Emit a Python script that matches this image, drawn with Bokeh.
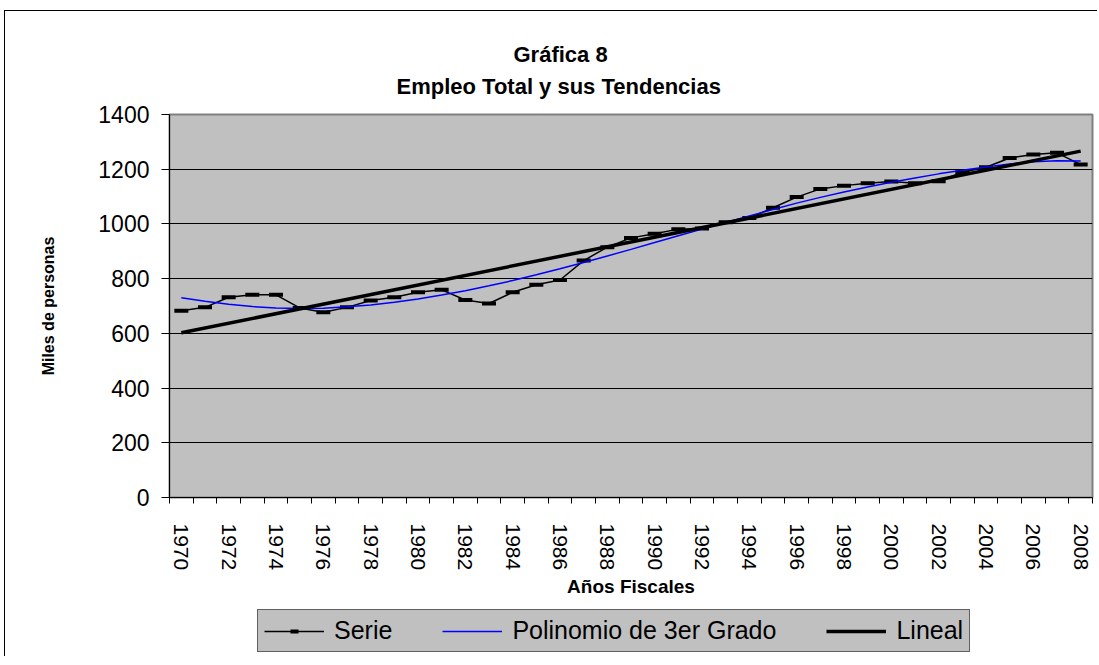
import math
from bokeh.plotting import figure
from bokeh.layouts import column
from bokeh.models import Range1d, FixedTicker, Legend, LegendItem, Title
from bokeh.embed import file_html
from bokeh.resources import INLINE

# ---------------- data ----------------
years = [1970, 1971, 1972, 1973, 1974, 1975, 1976, 1977, 1978, 1979,
         1980, 1981, 1982, 1983, 1984, 1985, 1986, 1987, 1988, 1989,
         1990, 1991, 1992, 1993, 1994, 1995, 1996, 1997, 1998, 1999,
         2000, 2001, 2002, 2003, 2004, 2005, 2006, 2007, 2008]

empleo = [683, 695, 732, 741, 741, 693, 677, 695, 720, 732,
          750, 759, 722, 709, 750, 778, 795, 866, 915, 949,
          964, 981, 983, 1006, 1022, 1059, 1098, 1128, 1140, 1149,
          1155, 1149, 1156, 1189, 1207, 1241, 1254, 1260, 1217]

polinomio = [730, 717, 706, 698, 693, 691, 692, 697, 704, 714,
             726, 740, 756, 774, 793, 814, 836, 859, 883, 907,
             932, 957, 981, 1005, 1029, 1053, 1076, 1097, 1117, 1135,
             1152, 1168, 1183, 1196, 1208, 1219, 1227, 1231, 1230]

lineal_years = [1970, 2008]
lineal = [602, 1266]

y_ticks = [0, 200, 400, 600, 800, 1000, 1200, 1400]
label_years = [1970, 1972, 1974, 1976, 1978, 1980, 1982, 1984, 1986, 1988,
               1990, 1992, 1994, 1996, 1998, 2000, 2002, 2004, 2006, 2008]

title_lines = ["Gráfica 8", "Empleo Total y sus Tendencias"]
x_title = "Años Fiscales"
y_title = "Miles de personas"
legend_labels = ["Serie", "Polinomio de 3er Grado", "Lineal"]

FONT = "Liberation Sans"

# category positions (centre of each category slot)
xpos = [i + 0.5 for i in range(len(years))]
lin_x = [years.index(y) + 0.5 for y in lineal_years]
lab_x = [years.index(y) + 0.5 for y in label_years]

p = figure(width=1093, height=596, title=None,
           x_range=Range1d(0, len(years)), y_range=Range1d(0, 1400),
           output_backend="svg", toolbar_location=None,
           min_border_left=164, min_border_top=103,
           min_border_right=6, min_border_bottom=110,
           background_fill_color="#C0C0C0", border_fill_color="white",
           outline_line_color="#808080", outline_line_width=2)
p.styles = {"margin-left": "4px", "margin-top": "10px",
            "border-top": "1px solid black", "border-left": "1px solid black"}

# ---------------- axes ----------------
xa = p.xaxis[0]
xa.ticker = FixedTicker(ticks=lab_x, minor_ticks=list(range(len(years) + 1)))
xa.major_label_overrides = {x: str(y) for x, y in zip(lab_x, label_years)}
xa.major_tick_out = 0
xa.major_tick_in = 0
xa.minor_tick_out = 6
xa.minor_tick_in = 0
xa.minor_tick_line_color = "black"
xa.axis_line_color = "black"
xa.major_label_orientation = -math.pi / 2
xa.major_label_text_font = FONT
xa.major_label_text_font_size = "21px"
xa.major_label_text_color = "black"
xa.major_label_standoff = 20
xa.axis_label = x_title
xa.axis_label_text_font = FONT
xa.axis_label_text_font_style = "bold"
xa.axis_label_text_font_size = "19px"
xa.axis_label_text_color = "black"
xa.axis_label_standoff = 3

ya = p.yaxis[0]
ya.ticker = FixedTicker(ticks=y_ticks, minor_ticks=[])
ya.major_tick_out = 8
ya.major_tick_in = 0
ya.major_tick_line_color = "black"
ya.axis_line_color = "black"
ya.major_label_text_font = FONT
ya.major_label_text_font_size = "23px"
ya.major_label_text_color = "black"
ya.major_label_standoff = 12
ya.axis_label = y_title
ya.axis_label_text_font = FONT
ya.axis_label_text_font_style = "bold"
ya.axis_label_text_font_size = "16px"
ya.axis_label_text_color = "black"
ya.axis_label_standoff = 38

p.xgrid.visible = False
p.ygrid.ticker = FixedTicker(ticks=y_ticks, minor_ticks=[])
p.ygrid.grid_line_color = "black"
p.ygrid.grid_line_width = 1

# ---------------- glyphs ----------------
SER = dict(line_color="black", line_width=1.5)
MK = dict(marker="dash", size=14, line_color="black", line_width=4)
POL = dict(line_color="#0000FF", line_width=1.5)
LIN = dict(line_color="black", line_width=3.5)

p.line(xpos, empleo, **SER)
p.scatter(xpos, empleo, **MK)
p.line(xpos, polinomio, **POL)
p.line(lin_x, lineal, **LIN)

# ---------------- titles (first added sits nearest the plot) ----------------
p.add_layout(Title(text=title_lines[1], align="left", offset=227, standoff=32,
                   text_font=FONT, text_font_size="22px", text_font_style="bold",
                   text_color="black"), "above")
p.add_layout(Title(text=title_lines[0], align="left", offset=344, standoff=-22,
                   text_font=FONT, text_font_size="22px", text_font_style="bold",
                   text_color="black"), "above")

# ---------------- legend strip (a slim figure under the chart) ----------------
# Same series drawn again, but the strip's y range (-1..0) keeps them out of view:
# they only serve as legend samples.
q = figure(width=1093, height=50, title=None,
           x_range=Range1d(0, len(years)), y_range=Range1d(-1, 0),
           output_backend="svg", toolbar_location=None,
           min_border=0, x_axis_type=None, y_axis_type=None,
           background_fill_color="white", border_fill_color="white",
           outline_line_color=None)
q.grid.visible = False
q.styles = {"margin-left": "4px", "border-left": "1px solid black"}

k_ser = q.line(xpos, empleo, **SER)
k_mk = q.scatter(xpos, empleo, **MK)
k_pol = q.line(xpos, polinomio, **POL)
k_lin = q.line(lin_x, lineal, **LIN)

legend = Legend(items=[LegendItem(label=legend_labels[0], renderers=[k_ser, k_mk]),
                       LegendItem(label=legend_labels[1], renderers=[k_pol]),
                       LegendItem(label=legend_labels[2], renderers=[k_lin])],
                orientation="horizontal", location=(88, 4),
                background_fill_color="#C0C0C0", background_fill_alpha=1,
                border_line_color="black", border_line_width=1,
                label_text_font=FONT, label_text_font_size="25px",
                label_text_color="black",
                glyph_width=60, glyph_height=20, label_standoff=10,
                spacing=50, padding=6, margin=0)
q.add_layout(legend, "center")

layout = column(p, q, spacing=0)
open("out.html", "w").write(file_html(layout, INLINE))
